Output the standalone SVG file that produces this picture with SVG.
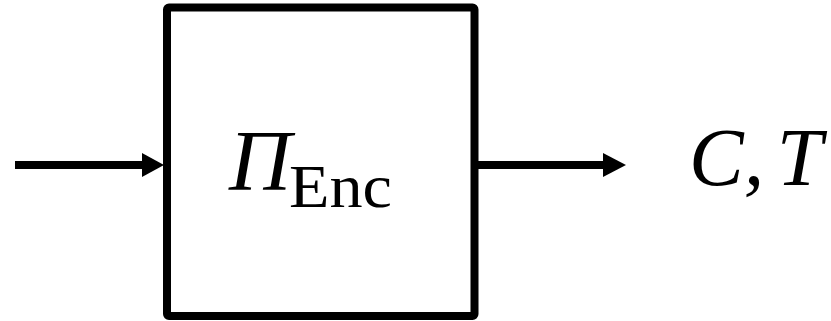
<svg xmlns="http://www.w3.org/2000/svg" width="831" height="321" viewBox="0 0 831 321">
<style>
.ln{stroke:#000;stroke-width:8;fill:none}
.ah{fill:#000}
.m{font-family:"Liberation Serif","DejaVu Serif",serif;fill:#000}
.it{font-style:italic}
</style>
<rect width="831" height="321" fill="#fff"/>
<g id="connectors">
<line class="ln" x1="15" y1="165" x2="144" y2="165"/>
<polygon class="ah" points="142,153 164,165 142,177"/>
<line class="ln" x1="478" y1="165" x2="605" y2="165"/>
<polygon class="ah" points="603,153 626,165 603,177"/>
</g>
<g id="encoder">
<rect class="ln" x="167" y="7.5" width="307.5" height="308.5" rx="2"/>
<text class="m it" x="229" y="190" font-size="86">Π</text>
<text class="m" x="289" y="207" font-size="62" textLength="103" lengthAdjust="spacingAndGlyphs">Enc</text>
</g>
<g id="output">
<text class="m it" x="689" y="185" font-size="82" word-spacing="-8">C, T</text>
</g>
</svg>
